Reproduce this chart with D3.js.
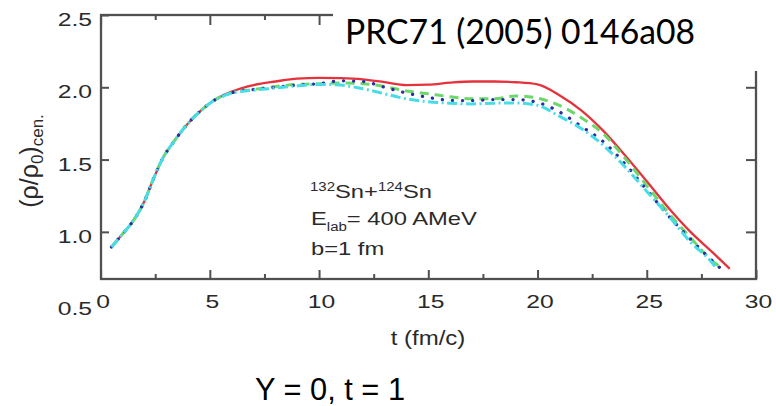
<!DOCTYPE html>
<html><head><meta charset="utf-8">
<script src="https://cdn.jsdelivr.net/npm/d3@7"></script>
<style>body{margin:0;background:#fff}svg{display:block}</style>
</head><body>
<svg id="c" width="776" height="406"></svg>
<script>
// ---- data ----
const tRed   = [0.5,1.0,1.4,2.0,2.4,2.8,3.4,4.0,4.6,5.2,6,7,8,9,10,11,12,13,14,15,16,17,18,19,20,21,22,23,24,25,26,27,28,28.8];
const red    = [0.895,0.985,1.057,1.21,1.36,1.496,1.634,1.75,1.84,1.91,1.97,2.015,2.04,2.06,2.065,2.063,2.055,2.035,2.015,2.018,2.032,2.04,2.04,2.035,2.02,1.945,1.84,1.7,1.53,1.35,1.165,1.0,0.86,0.745];
const tGreen = [0.5,1.0,1.4,2.0,2.4,2.8,3.4,4.0,4.6,5.2,6,7,8,9,10,11,12,13,14,15,16,17,18,19,20,21,22,23,24,25,26,27,28,28.5];
const green  = [0.895,0.985,1.057,1.21,1.36,1.496,1.634,1.75,1.84,1.91,1.962,1.985,2.005,2.02,2.025,2.03,2.025,2.005,1.975,1.955,1.935,1.92,1.92,1.94,1.925,1.875,1.79,1.68,1.51,1.32,1.13,0.96,0.8,0.745];
const tBlue  = [0.5,1.0,1.4,2.0,2.4,2.8,3.4,4.0,4.6,5.2,6,7,8,9,10,11,12,13,14,15,16,17,18,19,20,21,22,23,24,25,26,27,28,28.4];
const blue   = [0.895,0.985,1.057,1.21,1.36,1.496,1.634,1.75,1.84,1.91,1.962,1.985,2.0,2.015,2.025,2.045,2.04,2.0,1.96,1.93,1.91,1.908,1.915,1.915,1.895,1.83,1.73,1.625,1.47,1.29,1.11,0.95,0.8,0.745];
const tCyan  = [0.5,1.0,1.4,2.0,2.4,2.8,3.4,4.0,4.6,5.2,6,7,8,9,10,11,12,13,14,15,16,17,18,19,20,21,22,23,24,25,26,27,28,28.2];
const cyan   = [0.895,0.985,1.057,1.21,1.36,1.496,1.634,1.75,1.84,1.91,1.96,1.98,1.995,2.01,2.02,2.015,1.99,1.955,1.92,1.9,1.89,1.885,1.89,1.892,1.875,1.8,1.715,1.6,1.45,1.28,1.11,0.93,0.785,0.745];

const xMajorTicks = [0,5,10,15,20,25,30];
const xMinorTicks = [2.5,7.5,12.5,17.5,22.5,27.5];
const yTicks = [1.0,1.5,2.0,2.5];
const yExtraLabel = 0.5;

const title = "PRC71 (2005) 0146a08";
const caption = "Y = 0, t = 1";
const xLabel = "t (fm/c)";

// ---- layout ----
const svg = d3.select("#c");
const L = 101, R = 756, T = 15, B = 279;
const x = d3.scaleLinear().domain([0,30]).range([100.6, 756]);
const y = d3.scaleLinear().domain([0.674, 2.5]).range([B, T]);
const axisCol = "#505050", txtCol = "#2a2a2a";
const SX = 1.3; // horizontal stretch of the original figure's text

// frame
svg.append("rect").attr("x",L).attr("y",T).attr("width",R-L).attr("height",B-T)
  .style("fill","none").style("stroke",axisCol).style("stroke-width","2.3px");

// curves
const series = [
  {t:tRed,   v:red,   col:"#e5323c", w:2.3, dash:null},
  {t:tGreen, v:green, col:"#6cd86a", w:3,   dash:"9 6"},
  {t:tBlue,  v:blue,  col:"#2c2ca0", w:3.3, dash:"0.1 10", cap:"round"},
  {t:tCyan,  v:cyan,  col:"#48dde6", w:3,   dash:"10 3.5 2 3.5"}
];
const line = d3.line().x(d=>x(d[0])).y(d=>y(d[1])).curve(d3.curveMonotoneX);
series.forEach(s=>{
  svg.append("path").attr("d", line(d3.zip(s.t, s.v)))
    .attr("fill","none").attr("stroke",s.col).attr("stroke-width",s.w)
    .attr("stroke-dasharray",s.dash).attr("stroke-linecap",s.cap||"butt")
    .attr("stroke-linejoin","round");
});

// axes (ticks drawn via d3 axes, inward)
const gB = svg.append("g").attr("transform",`translate(0,${B})`)
  .call(d3.axisBottom(x).tickValues(xMajorTicks).tickSize(-9).tickSizeOuter(0).tickPadding(16).tickFormat(d3.format("d")));
const gBm = svg.append("g").attr("transform",`translate(0,${B})`)
  .call(d3.axisBottom(x).tickValues(xMinorTicks).tickSize(-5).tickSizeOuter(0).tickFormat(""));
const gT = svg.append("g").attr("transform",`translate(0,${T})`)
  .call(d3.axisTop(x).tickValues(xMajorTicks).tickSize(-10).tickSizeOuter(0).tickFormat(""));
const gTm = svg.append("g").attr("transform",`translate(0,${T})`)
  .call(d3.axisTop(x).tickValues(xMinorTicks).tickSize(-5).tickSizeOuter(0).tickFormat(""));
const gL = svg.append("g").attr("transform",`translate(${L},0)`)
  .call(d3.axisLeft(y).tickValues(yTicks).tickSize(-8).tickSizeOuter(0).tickPadding(9).tickFormat(d3.format(".1f")));
const gR = svg.append("g").attr("transform",`translate(${R},0)`)
  .call(d3.axisRight(y).tickValues(yTicks).tickSize(-10).tickSizeOuter(0).tickFormat(""));

[gB,gBm,gT,gTm,gL,gR].forEach(g=>{
  g.select(".domain").remove();
  g.selectAll(".tick line").style("stroke",axisCol).style("stroke-width","2px");
  g.selectAll(".tick text").attr("fill",txtCol).attr("font-family","'Liberation Sans', Arial, sans-serif").attr("font-size",19);
});
gB.selectAll(".tick text").attr("dy",null).attr("y",29.5).attr("x",2/SX).attr("transform",`scale(${SX},1)`);
gL.selectAll(".tick text").attr("dy",null).attr("y",10.6).attr("x",-9/SX).attr("transform",`scale(${SX},1)`);

// extra 0.5 label below axis
svg.append("g").attr("transform",`translate(${L-9},${y(yExtraLabel)+10.6}) scale(${SX},1)`)
  .append("text").attr("text-anchor","end").attr("fill",txtCol)
  .attr("font-family","'Liberation Sans', Arial, sans-serif").attr("font-size",19)
  .text(d3.format(".1f")(yExtraLabel));

// white title box covering part of frame
svg.append("rect").attr("x",333).attr("y",0).attr("width",443).attr("height",71).attr("fill","#fff");
svg.append("text").attr("x",345).attr("y",43.5).attr("font-family","Lato, 'Open Sans', sans-serif")
  .attr("font-size",35).attr("fill","#000").attr("textLength",350).attr("lengthAdjust","spacingAndGlyphs").text(title);

// x label
svg.append("g").attr("transform",`translate(428,345) scale(1.2,1)`)
  .append("text").attr("text-anchor","middle").attr("fill",txtCol)
  .attr("font-family","'Liberation Sans', Arial, sans-serif").attr("font-size",20).text(xLabel);

// y label (rotated)
const yl = svg.append("text").attr("transform","translate(38,161) rotate(-90)")
  .attr("text-anchor","middle").attr("fill",txtCol)
  .attr("font-family","'Liberation Sans', Arial, sans-serif").attr("font-size",25);
yl.append("tspan").text("(ρ/ρ");
yl.append("tspan").attr("font-size",17).attr("dy",5).text("0");
yl.append("tspan").attr("dy",-5).text(")");
yl.append("tspan").attr("font-size",17).attr("dy",5).text("cen.");

// annotation
const annFont = "'Liberation Sans', Arial, sans-serif";
const AS = 1.25;
const a1 = svg.append("g").attr("transform",`translate(310,198) scale(${AS},1)`)
  .append("text").attr("fill",txtCol).attr("font-family",annFont).attr("font-size",19);
a1.append("tspan").attr("font-size",12).attr("dy",-7.5).text("132");
a1.append("tspan").attr("dy",7.5).text("Sn+");
a1.append("tspan").attr("font-size",12).attr("dy",-7.5).text("124");
a1.append("tspan").attr("dy",7.5).text("Sn");
const a2 = svg.append("g").attr("transform",`translate(311,225) scale(${AS},1)`)
  .append("text").attr("fill",txtCol).attr("font-family",annFont).attr("font-size",19);
a2.append("tspan").text("E");
a2.append("tspan").attr("font-size",12).attr("dy",5.5).text("lab");
a2.append("tspan").attr("dy",-5.5).text("= 400 AMeV");
svg.append("g").attr("transform",`translate(311,255) scale(${AS},1)`)
  .append("text").attr("fill",txtCol).attr("font-family",annFont).attr("font-size",19).text("b=1 fm");

// caption
svg.append("text").attr("x",255).attr("y",400).attr("font-family","'Liberation Sans', Arial, sans-serif")
  .attr("font-size",32).attr("fill","#000").attr("textLength",150).attr("lengthAdjust","spacingAndGlyphs").text(caption);
</script>
</body></html>
